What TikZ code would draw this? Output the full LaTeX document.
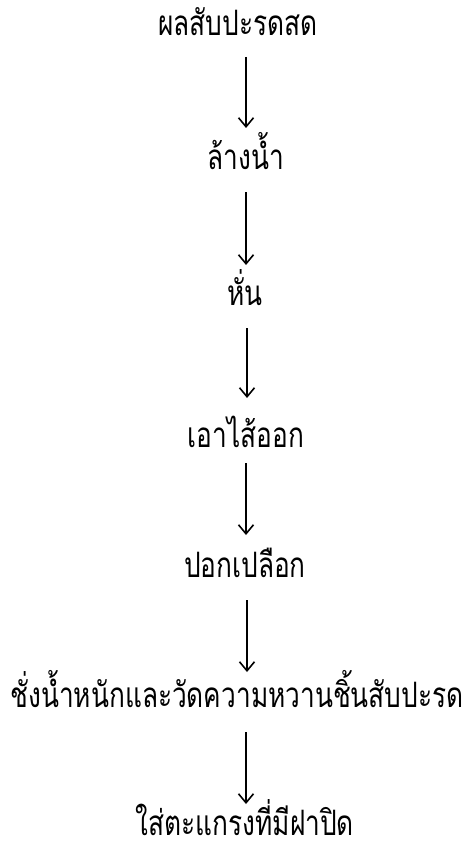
\documentclass[tikz,border=0pt]{standalone}
\usepackage{fontspec}
\newfontfamily\thaifont[Script=Thai,FakeStretch=0.75]{Loma}
\usetikzlibrary{arrows.meta}
\tikzset{
  lbl/.style={font=\thaifont\fontsize{35}{38}\selectfont, anchor=base, inner sep=0pt, text depth=1pt},
  arr/.style={line width=1.8pt, -{Straight Barb[length=9pt,width=15pt,line width=1.6pt]}}
}
\begin{document}
\begin{tikzpicture}[x=1pt,y=-1pt]
\useasboundingbox (0,0) rectangle (463,853);
\node[lbl] (t1) at (238,36) {ผลสับปะรดสด};
\node[lbl] (t2) at (246,170) {ล้างน้ำ};
\node[lbl] (t3) at (245,305) {หั่น};
\node[lbl] (t4) at (246,447) {เอาไส้ออก};
\node[lbl] (t5) at (245,577) {ปอกเปลือก};
\node[lbl] (t6) at (237,707) {ชั่งน้ำหนักและวัดความหวานชิ้นสับปะรด};
\node[lbl] (t7) at (245,835) {ใส่ตะแกรงที่มีฝาปิด};
\coordinate (a1s) at (246,57);  \coordinate (a1e) at (246,128);
\coordinate (a2s) at (246,192); \coordinate (a2e) at (246,265);
\coordinate (a3s) at (247,328); \coordinate (a3e) at (247,398);
\coordinate (a4s) at (246,463); \coordinate (a4e) at (246,535);
\coordinate (a5s) at (247,600); \coordinate (a5e) at (247,672);
\coordinate (a6s) at (246,732); \coordinate (a6e) at (246,804);
\foreach \i in {1,...,6} \draw[arr] (a\i s) -- (a\i e);
\end{tikzpicture}
\end{document}
